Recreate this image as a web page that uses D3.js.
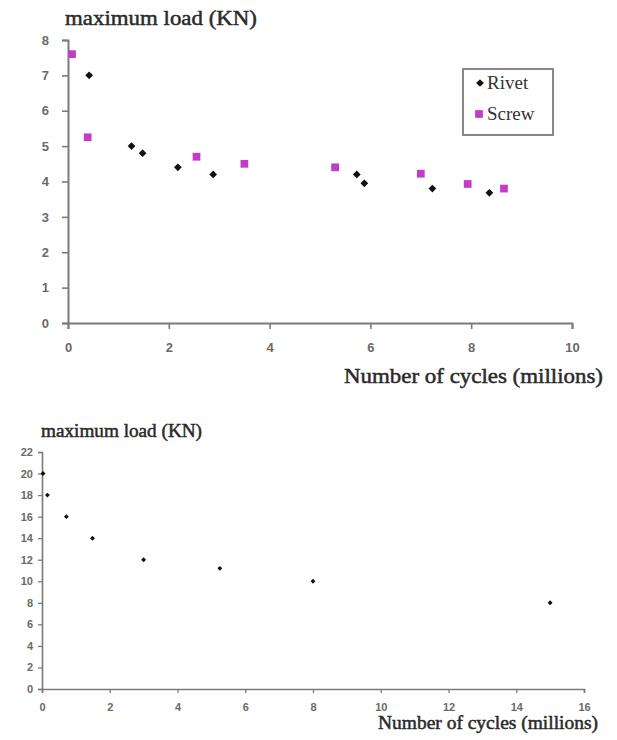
<!DOCTYPE html>
<html>
<head>
<meta charset="utf-8">
<script src="https://cdn.jsdelivr.net/npm/d3@7"></script>
<style>
  html, body { margin: 0; padding: 0; background: #fff; }
  svg { display: block; }
</style>
</head>
<body>
<svg id="chart" width="617" height="740"></svg>
<script>
// Fatigue test results: maximum load versus number of cycles to failure

// Upper panel: riveted vs screwed joints
const rivetCycles = [0.42, 1.26, 1.48, 2.18, 2.88, 5.73, 5.88, 7.23, 8.36];
const rivetLoad   = [7.0, 5.0, 4.8, 4.4, 4.2, 4.2, 3.95, 3.8, 3.68];
const screwCycles = [0.08, 0.39, 2.55, 3.5, 5.3, 7.0, 7.93, 8.65];
const screwLoad   = [7.6, 5.25, 4.7, 4.5, 4.4, 4.22, 3.93, 3.8];
const topXTicks = [0, 2, 4, 6, 8, 10];
const topYTicks = [0, 1, 2, 3, 4, 5, 6, 7, 8];
const seriesNames = ["Rivet", "Screw"];

// Lower panel: single series
const lowerCycles = [0.03, 0.16, 0.72, 1.49, 3.0, 5.25, 8.0, 15.0];
const lowerLoad   = [20, 18, 16, 14, 12, 11.2, 10, 8];
const lowerXTicks = [0, 2, 4, 6, 8, 10, 12, 14, 16];
const lowerYTicks = [0, 2, 4, 6, 8, 10, 12, 14, 16, 18, 20, 22];

const yTitle = "maximum load (KN)";
const xTitle = "Number of cycles (millions)";

const svg = d3.select("#chart");
const axisColor = "#7a7a7a";
const labelColor = "#6a6a6a";
const serif = "'Liberation Serif', 'Times New Roman', serif";
const sans = "'Liberation Sans', Arial, sans-serif";
const magenta = "#c23cc8";

function styleAxis(g, fontSize, width) {
  g.select(".domain").attr("stroke", axisColor).attr("stroke-width", width);
  g.selectAll(".tick line").attr("stroke", axisColor).attr("stroke-width", width * 0.8);
  g.selectAll(".tick text")
    .attr("fill", labelColor)
    .attr("font-family", sans)
    .attr("font-size", fontSize)
    .attr("font-weight", "bold");
}

function title(x, y, size, len, txt) {
  svg.append("text")
    .attr("x", x).attr("y", y)
    .attr("font-family", serif).attr("font-size", size)
    .attr("fill", "#2a2a2a")
    .attr("stroke", "#2a2a2a").attr("stroke-width", 0.5)
    .attr("textLength", len).attr("lengthAdjust", "spacingAndGlyphs")
    .text(txt);
}

// ---------- Upper panel ----------
const x1 = d3.scaleLinear().domain([0, 10]).range([68, 572]);
const y1 = d3.scaleLinear().domain([0, 8]).range([323, 40]);

const gx1 = svg.append("g").attr("transform", `translate(0,${y1(0)})`)
  .call(d3.axisBottom(x1).tickValues(topXTicks).tickSize(6).tickPadding(14).tickSizeOuter(6));
styleAxis(gx1, 13, 2);

const gy1 = svg.append("g").attr("transform", `translate(${x1(0)},0)`)
  .call(d3.axisLeft(y1).tickValues(topYTicks).tickSize(6).tickPadding(13).tickSizeOuter(6));
styleAxis(gy1, 13, 2);

title(65, 25, 22, 192, yTitle);
title(344, 383, 22, 259, xTitle);

const diamond = d3.symbol().type(d3.symbolSquare).size(30);
const square = d3.symbol().type(d3.symbolSquare).size(60);

svg.append("g").selectAll("path")
  .data(rivetCycles.map((c, i) => [c, rivetLoad[i]]))
  .join("path")
  .attr("d", diamond)
  .attr("fill", "#111")
  .attr("transform", d => `translate(${x1(d[0])},${y1(d[1])}) rotate(45)`);

svg.append("g").selectAll("path")
  .data(screwCycles.map((c, i) => [c, screwLoad[i]]))
  .join("path")
  .attr("d", square)
  .attr("fill", magenta)
  .attr("transform", d => `translate(${x1(d[0])},${y1(d[1])})`);

// Legend
const legend = svg.append("g");
legend.append("rect")
  .attr("x", 463).attr("y", 69).attr("width", 90).attr("height", 66)
  .attr("fill", "#fff").attr("stroke", "#888").attr("stroke-width", 2);
legend.append("path").attr("d", diamond).attr("fill", "#111")
  .attr("transform", "translate(480,83) rotate(45)");
legend.append("path").attr("d", square).attr("fill", magenta)
  .attr("transform", "translate(479,114)");
legend.selectAll("text.lg")
  .data(seriesNames)
  .join("text")
  .attr("class", "lg")
  .attr("x", 487)
  .attr("y", (d, i) => 89 + i * 31)
  .attr("font-family", serif).attr("font-size", 19)
  .attr("fill", "#333")
  .text(d => d);

// ---------- Lower panel ----------
const x2 = d3.scaleLinear().domain([0, 16]).range([42, 584]);
const y2 = d3.scaleLinear().domain([0, 22]).range([689, 452]);

const gx2 = svg.append("g").attr("transform", `translate(0,${y2(0)})`)
  .call(d3.axisBottom(x2).tickValues(lowerXTicks).tickSize(4).tickPadding(10).tickSizeOuter(4));
styleAxis(gx2, 11, 1.6);

const gy2 = svg.append("g").attr("transform", `translate(${x2(0)},0)`)
  .call(d3.axisLeft(y2).tickValues(lowerYTicks).tickSize(4).tickPadding(5).tickSizeOuter(4));
styleAxis(gy2, 11, 1.6);

title(41, 437, 19, 161, yTitle);
title(378, 729, 19, 220, xTitle);

const smallDiamond = d3.symbol().type(d3.symbolSquare).size(12);
svg.append("g").selectAll("path")
  .data(lowerCycles.map((c, i) => [c, lowerLoad[i]]))
  .join("path")
  .attr("d", smallDiamond)
  .attr("fill", "#111")
  .attr("transform", d => `translate(${x2(d[0])},${y2(d[1])}) rotate(45)`);
</script>
</body>
</html>
